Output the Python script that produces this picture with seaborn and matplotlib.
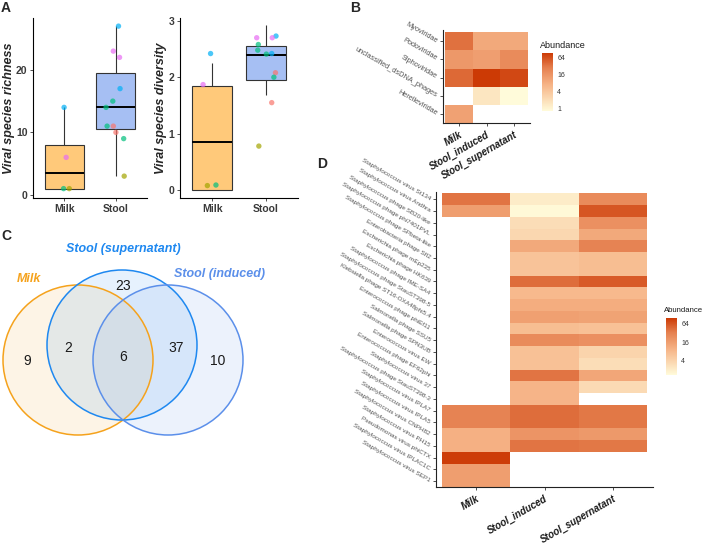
import numpy as np
import pandas as pd
import matplotlib
matplotlib.use("Agg")
import matplotlib.pyplot as plt
import seaborn as sns
from matplotlib.colors import LogNorm, LinearSegmentedColormap
from matplotlib.patches import Circle

sns.set_style("white")
plt.rcParams['font.family'] = ['Liberation Sans', 'DejaVu Sans']

# ---------------- data ----------------
groups = ["Milk", "Stool"]
# species richness (box + points)
rich_milk = [14, 6, 1, 1]
rich_milk_subj = ["P4", "P5", "P3", "P2"]
rich_stool = [27, 23, 22, 17, 15, 14, 11, 11, 10, 9, 3]
rich_stool_subj = ["P4", "P5", "P5", "P4", "P3", "P3", "P3", "P1", "P1", "P3", "P2"]
# species diversity: box values and plotted (jittered) points
div_milk_box = [0.0, 0.0, 1.7, 2.25]
div_milk_pts = [2.42, 1.87, 0.08, 0.09]
div_milk_subj = ["P4", "P5", "P2", "P3"]
div_stool_box = [0.8, 1.68, 1.92, 1.98, 2.1, 2.4, 2.42, 2.5, 2.6, 2.7, 2.92]
div_stool_pts = [2.73, 2.70, 2.70, 2.58, 2.48, 2.41, 2.42, 2.08, 2.00, 1.55, 0.78]
div_stool_subj = ["P4", "P5", "P5", "P3", "P3", "P3", "P4", "P1", "P3", "P1", "P2"]

subject_colors = {"P1": "#F8766D", "P2": "#A3A500", "P3": "#00BF7D",
                  "P4": "#00B0F6", "P5": "#E76BF3"}

# panel B: family-level abundance
b_rows = ["Myoviridae", "Podoviridae", "Siphoviridae",
          "unclassified_dsDNA_phages", "Herelleviridae"]
b_cols = ["Milk", "Stool_induced", "Stool_supernatant"]
b_milk = [35, 14, 40, np.nan, 11]
b_induced = [9, 12, 90, 1.5, np.nan]
b_super = [9, 20, 70, 0.8, np.nan]

# panel C: Venn counts
venn_sets = ["Milk", "Stool (supernatant)", "Stool (induced)"]
venn_counts = {"milk_only": 9, "milk_super": 2, "all": 6,
               "super_induced": 37, "induced_only": 10, "super_only": 23}

# panel D: species-level abundance
d_rows = ["Staphylococcus virus St134", "Staphylococcus virus Andhra",
          "Staphylococcus phage SB20-like", "Staphylococcus phage phi7401PVL",
          "Staphylococcus phage SPbeta-like", "Enterobacteria phage SfI2",
          "Escherichia phage mEp235", "Escherichia phage HK639",
          "Staphylococcus phage IME-SA4", "Staphylococcus phage StauST398-5",
          "Klebsiella phage ST16-OXA48phi5.4", "Enterococcus phage phiEf11",
          "Salmonella phage SSU5", "Salmonella phage SPN3UB",
          "Enterococcus virus EW", "Enterococcus phage EF62phi",
          "Staphylococcus virus 37", "Staphylococcus phage StauST398-3",
          "Staphylococcus virus IPLA7", "Staphylococcus virus IPLA5",
          "Staphylococcus virus CNPH82", "Staphylococcus virus PH15",
          "Pseudomonas virus phiCTX", "Staphylococcus virus IPLAC1C",
          "Staphylococcus virus SEP1"]
nan = np.nan
d_milk = [40, 16, nan, nan, nan, nan, nan, nan, nan, nan, nan, nan, nan,
          nan, nan, nan, nan, nan, 30, 30, 10, 10, 95, 16, 16]
d_induced = [2, 1.4, 3, 3.5, 12, 6, 6, 45, 8, 11, 15, 7, 25, 6.5, 6.5, 40,
             9, 9, 45, 45, 20, 40, nan, nan, nan]
d_super = [25, 64, 22, 12, 30, 7, 7, 60, 8, 11, 14, 6.5, 22, 3.8, 3, 13,
           3.2, nan, 38, 38, 18, 38, nan, nan, nan]

# ---------------- styling ----------------
W, H = 708, 544
fig = plt.figure(figsize=(W / 100, H / 100), dpi=100)


def px_axes(x0, y0, x1, y1):
    return fig.add_axes([x0 / W, 1 - y1 / H, (x1 - x0) / W, (y1 - y0) / H])


cmap = LinearSegmentedColormap.from_list(
    "abund", [(0, "#FFFBDA"), (0.45, "#F6B487"), (0.75, "#E57F4E"), (1, "#CC3A05")])
box_pal = {"Milk": "#FFC97A", "Stool": "#A6BFF3"}
tick_col = "#3A3A3A"


def box_panel(ax, box_vals, pt_vals, pt_subj, offsets, ylabel, ylim, yticks):
    df = pd.DataFrame({"group": [g for g, v in zip(groups, box_vals) for _ in v],
                       "value": [x for v in box_vals for x in v]})
    sns.boxplot(data=df, x="group", y="value", hue="group", palette=box_pal,
                order=groups, width=0.75, showfliers=False, showcaps=False,
                saturation=1, linecolor="#333333", linewidth=0.8, legend=False,
                medianprops={"color": "black", "linewidth": 1.4}, ax=ax)
    for gi, (vals, subs, offs) in enumerate(zip(pt_vals, pt_subj, offsets)):
        ax.scatter([gi + o for o in offs], vals,
                   c=[subject_colors[s] for s in subs], s=15, alpha=0.7,
                   linewidths=0, zorder=5)
    ax.set_xlim(-0.6, 1.6)
    ax.set_ylim(*ylim)
    ax.set_yticks(yticks)
    ax.set_xlabel("")
    ax.set_ylabel(ylabel, fontsize=9, fontweight="bold", style="italic", labelpad=1)
    for s in ["top", "right"]:
        ax.spines[s].set_visible(False)
    for s in ["left", "bottom"]:
        ax.spines[s].set_color("black")
        ax.spines[s].set_linewidth(0.8)
    ax.tick_params(axis="both", length=2.5, width=0.6, color="#333333",
                   labelsize=7.5, labelcolor=tick_col, pad=1.5, left=True, bottom=True)
    for lab in ax.get_xticklabels() + ax.get_yticklabels():
        lab.set_fontweight("bold")


# Panel A
ax_r = px_axes(33, 18, 147, 198)
box_panel(ax_r, [rich_milk, rich_stool], [rich_milk, rich_stool],
          [rich_milk_subj, rich_stool_subj],
          [[0, 0.04, -0.01, 0.1],
           [0.05, -0.05, 0.07, 0.08, -0.06, -0.19, -0.17, -0.05, 0, 0.15, 0.16]],
          "Viral species richness", (-0.5, 28.3), [0, 10, 20])
ax_d = px_axes(180, 18, 298, 198)
box_panel(ax_d, [div_milk_box, div_stool_box], [div_milk_pts, div_stool_pts],
          [div_milk_subj, div_stool_subj],
          [[-0.03, -0.17, -0.09, 0.07],
           [0.19, -0.17, 0.12, -0.14, -0.15, 0.01, 0.11, 0.18, 0.15, 0.11, -0.13]],
          "Viral species diversity", (-0.14, 3.05), [0, 1, 2, 3])


def heat_panel(ax, cax, rows, cols, data, vmin, vmax, ylabsize, cbticks, cb_label_xy,
               xpad, cb_fs):
    df = pd.DataFrame(dict(zip(cols, data)), index=rows)
    sns.heatmap(df, cmap=cmap, norm=LogNorm(vmin=vmin, vmax=vmax), cbar=False,
                ax=ax, linewidths=0)
    n = len(rows)
    ax.set_xlim(-xpad, 3 + xpad)
    ax.set_ylim(n + 0.0, -0.12)
    for s in ["left", "bottom"]:
        ax.spines[s].set_visible(True)
        ax.spines[s].set_color("#222222")
        ax.spines[s].set_linewidth(0.8)
    ax.set_xlabel("")
    ax.set_ylabel("")
    ax.set_yticks(np.arange(n) + 0.5)
    ax.set_yticklabels(rows, rotation=-30, ha="right", va="center",
                       rotation_mode="anchor", fontsize=ylabsize, color="#555555")
    ax.set_xticks(np.arange(3) + 0.5)
    ax.set_xticklabels(cols, rotation=30, ha="right", va="top",
                       rotation_mode="anchor", fontsize=7, fontweight="bold",
                       style="italic", color="#1A1A1A")
    ax.tick_params(axis="both", length=2.5, width=0.6, color="#333333", pad=2,
                   left=True, bottom=True)
    mesh = ax.collections[0]
    cb = fig.colorbar(mesh, cax=cax, ticks=cbticks)
    cb.outline.set_visible(False)
    cax.minorticks_off()
    cax.set_yticklabels([str(t) for t in cbticks])
    cax.tick_params(length=0, labelsize=5, pad=3, labelcolor="#333333")
    fig.text(cb_label_xy[0] / W, 1 - cb_label_xy[1] / H, "Abundance",
             fontsize=cb_fs, va="center", ha="left", color="#1A1A1A")


# Panel B
ax_b = px_axes(443, 30, 530, 123)
cax_b = px_axes(542, 53, 553, 111)
heat_panel(ax_b, cax_b, b_rows, b_cols, [b_milk, b_induced, b_super], 0.8, 90,
           5.3, [1, 4, 16, 64], (540, 45), 0.07, 6.5)

# Panel D
ax_dd = px_axes(436, 192, 653, 487)
cax_d = px_axes(666, 318, 677, 375)
heat_panel(ax_dd, cax_d, d_rows, b_cols, [d_milk, d_induced, d_super], 1.3, 100,
           4.6, [4, 16, 64], (664, 311), 0.09, 5.6)

# Panel C: Venn
ax_v = fig.add_axes([0, 0, 300 / W, (H - 230) / H])
ax_v.set_xlim(0, 300)
ax_v.set_ylim(H, 230)
ax_v.axis("off")
circ = [((78, 360), "#F5A21C"), ((122, 345), "#1E88F0"), ((168, 360), "#5B8FEA")]
for (c, col) in circ:
    ax_v.add_patch(Circle(c, 75, facecolor=col, alpha=0.11, edgecolor="none"))
for (c, col) in circ:
    ax_v.add_patch(Circle(c, 75, facecolor="none", edgecolor=col, linewidth=1.1))
count_pos = {"milk_only": (27, 361), "milk_super": (68, 348), "all": (123, 357),
             "super_induced": (176, 348), "induced_only": (218, 361),
             "super_only": (123, 286)}
for k, v in venn_counts.items():
    ax_v.text(*count_pos[k], str(v), ha="center", va="center", fontsize=10,
              color="#1A1A1A")
set_pos = [(29, 279), (123, 249), (220, 274)]
set_col = ["#F5A21C", "#1E88F0", "#5B8FEA"]
for name, p, col in zip(venn_sets, set_pos, set_col):
    ax_v.text(*p, name, ha="center", va="center", fontsize=9, fontweight="bold",
              style="italic", color=col)

# panel letters
for lab, (x, y) in {"A": (6, 8), "B": (355, 8), "C": (6, 236), "D": (322, 164)}.items():
    fig.text(x / W, 1 - y / H, lab, fontsize=10, fontweight="bold", ha="center",
             va="center")

fig.savefig("out.png", dpi=100)
